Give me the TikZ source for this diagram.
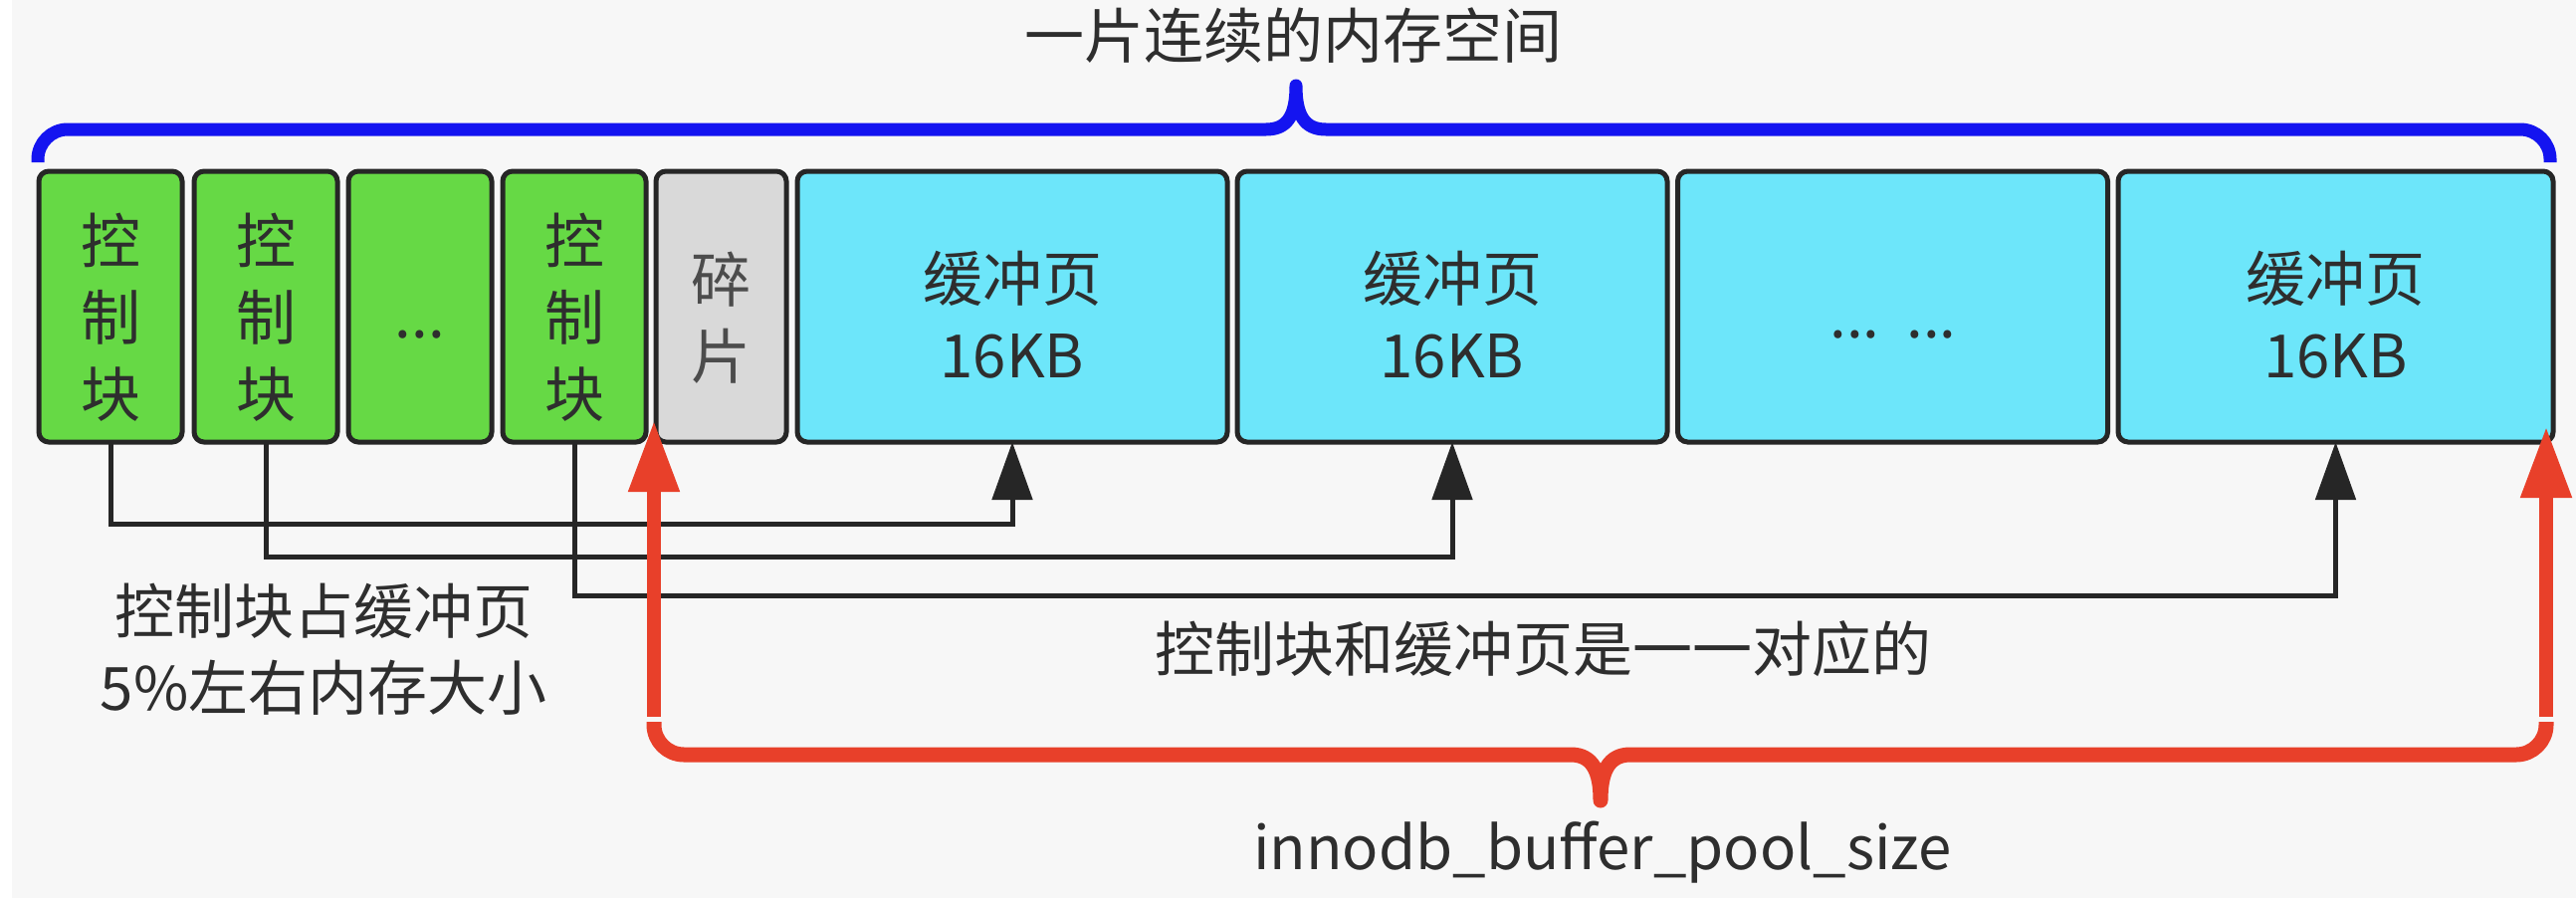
\documentclass[tikz,border=0pt]{standalone}
\usepackage{fontspec}
\newfontfamily\cjk{Noto Sans CJK SC}
\usetikzlibrary{arrows.meta}
\definecolor{ctrlgreen}{HTML}{66D945}
\definecolor{pagecyan}{HTML}{6DE6FA}
\definecolor{fraggray}{HTML}{D9D9D9}
\definecolor{bracered}{HTML}{E8402A}
\definecolor{braceblue}{HTML}{1414F0}
\definecolor{bgpaper}{HTML}{F7F7F7}
\definecolor{inkgray}{HTML}{2E2E2E}
\tikzset{
  cell/.style={draw=black!85, line width=5pt, rounded corners=10pt, minimum height=272pt, inner sep=0pt, outer sep=0pt},
  ctrl/.style={cell, fill=ctrlgreen, minimum width=144pt},
  frag/.style={cell, fill=fraggray, minimum width=131pt},
  page/.style={cell, fill=pagecyan, minimum width=432pt},
  txt/.style={font=\cjk\fontsize{60}{77}\selectfont, text=inkgray, align=center, inner sep=0pt},
  link/.style={line width=5pt, draw=black!85, -{Triangle[length=58pt,width=40pt]}},
  redarrow/.style={line width=14pt, draw=bracered, -{Triangle[length=72pt,width=48pt]}},
  bracepath/.style={line width=#1, line join=round, line cap=butt},
}
\begin{document}
\begin{tikzpicture}[x=1pt, y=-1pt]
  \useasboundingbox (0,0) rectangle (2588,902);
  \fill[white] (0,0) rectangle (2588,902);
  \fill[bgpaper] (12,0) rectangle (2588,902);
  % the memory cells
  \foreach \n/\x in {g1/111, g2/267, g3/422, g4/577} \node[ctrl] (\n) at (\x,308) {};
  \node[frag] (fr) at (724.5,308) {};
  \foreach \n/\x in {p1/1017, p2/1459, p3/1901.5} \node[page] (\n) at (\x,308) {};
  \node[page, minimum width=437pt] (p4) at (2346.5,308) {};
  \foreach \n in {g1, g2, g4} \node[txt] (\n-t) at ([yshift=-11pt]\n.center) {控\\制\\块};
  \node[txt, anchor=base] (g3-t) at (422,339) {...};
  \node[txt, text=black!70] (fr-t) at ([yshift=-11pt]fr.center) {碎\\片};
  \foreach \n in {p1, p2, p4} \node[txt] (\n-t) at ([yshift=-8pt]\n.center) {缓冲页\\16KB};
  \node[txt, anchor=base] (p3-t) at (1902,339) {...\ \ ...};
  % blue brace on top
  \draw[bracepath=13pt, braceblue] (38,163) -- (38,160) .. controls (38,143.5) and (51.5,130) .. (68,130)
    -- (1272,130) .. controls (1294,130) and (1302,115) .. (1302,86)
    .. controls (1302,115) and (1310,130) .. (1332,130)
    -- (2532,130) .. controls (2548.5,130) and (2562,143.5) .. (2562,160) -- (2562,163);
  \node[txt] (title) at (1299,36) {一片连续的内存空间};
  % control block -> page links
  \draw[link] (g1.south) -- ++(0,82) -| (p1.south);
  \draw[link] (g2.south) -- ++(0,115) -| (p2.south);
  \draw[link] (g4.south) -- ++(0,154) -| (p4.south);
  \node[txt] (note) at (325,652) {控制块占缓冲页\\5\%左右内存大小};
  \node[txt] (match) at (1550,652) {控制块和缓冲页是一一对应的};
  % red size brace
  \coordinate (redL) at (657,422); \coordinate (redLfoot) at (657,720);
  \coordinate (redR) at (2558,428); \coordinate (redRfoot) at (2558,720);
  \draw[redarrow] (redLfoot) -- (redL);
  \draw[redarrow] (redRfoot) -- (redR);
  \draw[bracepath=15pt, bracered] (657,725) -- (657,728) .. controls (657,744.5) and (670.5,758) .. (687,758)
    -- (1578,758) .. controls (1600,758) and (1608,775) .. (1608,804)
    .. controls (1608,775) and (1616,758) .. (1638,758)
    -- (2528,758) .. controls (2544.5,758) and (2558,744.5) .. (2558,728) -- (2558,725);
  \node[txt] (size) at (1610,856) {innodb\_buffer\_pool\_size};
\end{tikzpicture}
\end{document}
